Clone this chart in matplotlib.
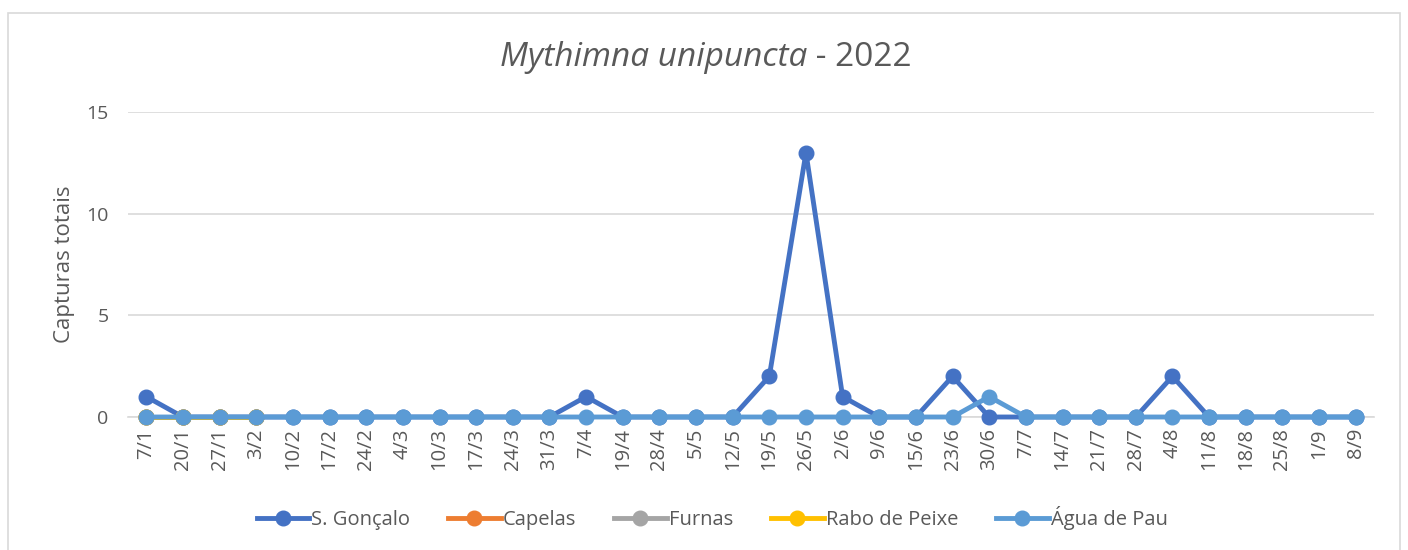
import numpy as np
import matplotlib.pyplot as plt
from matplotlib.patches import Rectangle

plt.rcParams['font.family'] = ['Open Sans', 'DejaVu Sans']

# data
datas = ['7/1', '20/1', '27/1', '3/2', '10/2', '17/2', '24/2', '4/3', '10/3', '17/3',
         '24/3', '31/3', '7/4', '19/4', '28/4', '5/5', '12/5', '19/5', '26/5', '2/6',
         '9/6', '15/6', '23/6', '30/6', '7/7', '14/7', '21/7', '28/7', '4/8', '11/8',
         '18/8', '25/8', '1/9', '8/9']
s_goncalo = [1, 0, 0, 0, 0, 0, 0, 0, 0, 0, 0, 0, 1, 0, 0, 0, 0, 2, 13, 1,
             0, 0, 2, 0, 0, 0, 0, 0, 2, 0, 0, 0, 0, 0]
# the other traps only have records for the first weeks
capelas = [0, 0, 0, 0] + [np.nan] * 30
furnas = [0, 0, 0, 0] + [np.nan] * 30
rabo_de_peixe = [0, 0, 0, 0] + [np.nan] * 30
agua_de_pau = [0, 0, 0, 0, 0, 0, 0, 0, 0, 0, 0, 0, 0, 0, 0, 0, 0, 0, 0, 0,
               0, 0, 0, 1, 0, 0, 0, 0, 0, 0, 0, 0, 0, 0]

series = [
    ('S. Gonçalo', s_goncalo, '#4472C4'),
    ('Capelas', capelas, '#ED7D31'),
    ('Furnas', furnas, '#A5A5A5'),
    ('Rabo de Peixe', rabo_de_peixe, '#FFC000'),
    ('Água de Pau', agua_de_pau, '#5B9BD5'),
]

fig = plt.figure(figsize=(14.08, 5.5), dpi=100)
ax = fig.add_axes([128 / 1408, 1 - 417 / 550, (1374 - 128) / 1408, (417 - 112) / 550])

# chart border
fig.add_artist(Rectangle((8 / 1408, -0.05), (1400 - 8) / 1408, 1.05 - 13 / 550,
                         transform=fig.transFigure, fill=False, edgecolor='#D9D9D9', lw=1.2))

x = list(range(len(datas)))
for name, vals, col in series:
    ax.plot(x, vals, color=col, lw=3.5, marker='o', ms=10.5, label=name, zorder=3,
            clip_on=False)

ax.set_xlim(-0.5, len(datas) - 0.5)
ax.set_ylim(0, 15)
ax.set_yticks([0, 5, 10, 15])
ax.set_xticks(x)
ax.set_xticklabels(datas, rotation=90)
ax.grid(axis='y', color='#D9D9D9', lw=1.2)
ax.set_axisbelow(True)
for sp in ['top', 'right', 'left']:
    ax.spines[sp].set_visible(False)
ax.spines['bottom'].set_color('#D9D9D9')
ax.spines['bottom'].set_linewidth(1.2)
ax.tick_params(axis='x', length=0, labelsize=14.5, colors='#595959', pad=8)
ax.tick_params(axis='y', length=0, labelsize=14, colors='#595959', pad=14)
ax.set_ylabel('Capturas totais', fontsize=16, color='#595959', labelpad=8)

# title with italic species name
fig.canvas.draw()
r = fig.canvas.get_renderer()
t1 = fig.text(0, 0, 'Mythimna unipuncta', fontsize=24, style='italic', color='#595959',
              va='center')
t2 = fig.text(0, 0, ' - 2022', fontsize=24, color='#595959', va='center')
w1 = t1.get_window_extent(r).width
w2 = t2.get_window_extent(r).width
cx = 706
y0 = 1 - 58 / 550
t1.set_position(((cx - (w1 + w2) / 2) / 1408, y0))
t2.set_position(((cx - (w1 + w2) / 2 + w1) / 1408, y0))

leg = fig.legend(loc='center', bbox_to_anchor=(712 / 1408, 1 - 518 / 550), ncol=5,
                 frameon=False, fontsize=14.5, handlelength=2.6, columnspacing=1.9,
                 handletextpad=0.1)
for txt in leg.get_texts():
    txt.set_color('#595959')

fig.savefig('out.png', dpi=100)
